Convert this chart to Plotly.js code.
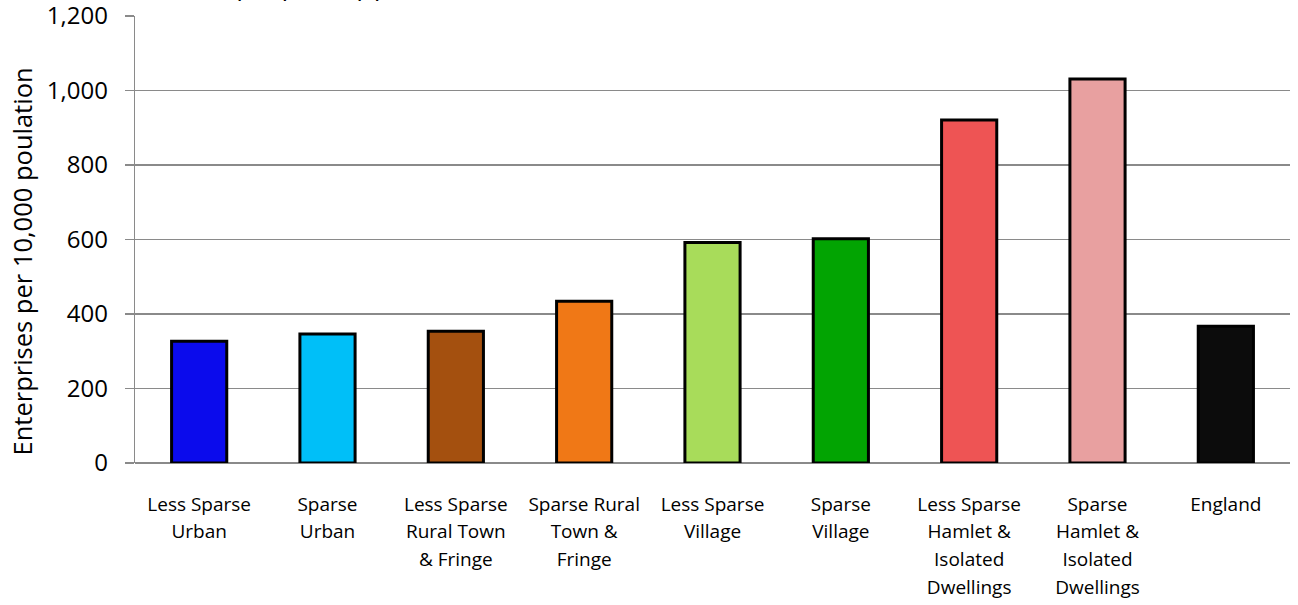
<!DOCTYPE html>
<html><head><meta charset="utf-8">
<script src="https://cdn.plot.ly/plotly-3.0.1.min.js"></script>
<style>html,body{margin:0;padding:0;background:#fff}#chart{width:1298px;height:605px}</style>
</head><body><div id="chart"></div>
<script>
const categories = ["Less Sparse<br>Urban","Sparse<br>Urban","Less Sparse<br>Rural Town<br>& Fringe","Sparse Rural<br>Town &<br>Fringe","Less Sparse<br>Village","Sparse<br>Village","Less Sparse<br>Hamlet &<br>Isolated<br>Dwellings","Sparse<br>Hamlet &<br>Isolated<br>Dwellings","England"];
const values = [327, 346, 354, 434, 592, 602, 921, 1031, 367];
const barColors = ["#0b0bec","#00bff8","#a4500f","#f07816","#a8dc5a","#02a402","#ee5454","#e8a0a0","#0c0c0c"];
const yTicks = [0,200,400,600,800,1000,1200];
const yTickText = ["0","200","400","600","800","1,000","1,200"];
const titleText = "Enterprises per 10,000 population, 2011/12";
const yTitle = "Enterprises per 10,000 poulation";

// category labels drawn slightly smaller than the tick font to get wider line spacing
const tickText = categories.map(c => c.split("<br>").map(s => '<span style="font-size:19px">' + s + '</span>').join("<br>"));

const trace = {
  type: "bar",
  x: categories,
  y: values,
  marker: {color: barColors, line: {color: "#000", width: 3}},
  width: 0.43,
  hoverinfo: "x+y"
};
const layout = {
  width: 1298, height: 605,
  margin: {l: 135, r: 8, t: 16, b: 142},
  paper_bgcolor: "#fff", plot_bgcolor: "#fff",
  font: {family: "Open Sans, sans-serif", color: "#000"},
  title: {text: "<b>" + titleText + "</b>", font: {size: 14, color: "#000"}, x: 0.056, xanchor: "left", xref: "paper", y: 1.0, yref: "container", yanchor: "bottom", pad: {b: 2}},
  showlegend: false,
  xaxis: {
    type: "category", showgrid: false, zeroline: false, showline: false,
    ticks: "", tickfont: {size: 21.5}, ticklabelstandoff: 25, tickangle: 0,
    tickvals: categories, ticktext: tickText
  },
  yaxis: {
    range: [0, 1200], tickvals: yTicks, ticktext: yTickText,
    showgrid: true, gridcolor: "#8a8a8a", gridwidth: 1.6,
    zeroline: true, zerolinecolor: "#8a8a8a", zerolinewidth: 1.6,
    showline: true, linecolor: "#8a8a8a", linewidth: 1.3,
    ticks: "outside", ticklen: 9, tickcolor: "#8a8a8a", tickwidth: 1.3,
    tickfont: {size: 24}, ticklabeloverflow: "allow", ticklabelstandoff: 12
  },
  annotations: [{
    text: yTitle, textangle: -90, showarrow: false,
    xref: "paper", x: 0, xanchor: "center", xshift: -114,
    yref: "paper", y: 0.5, yanchor: "middle", yshift: -22,
    font: {size: 25.5, color: "#000"}
  }]
};
Plotly.newPlot("chart", [trace], layout, {displayModeBar: false, staticPlot: true});
</script></body></html>
